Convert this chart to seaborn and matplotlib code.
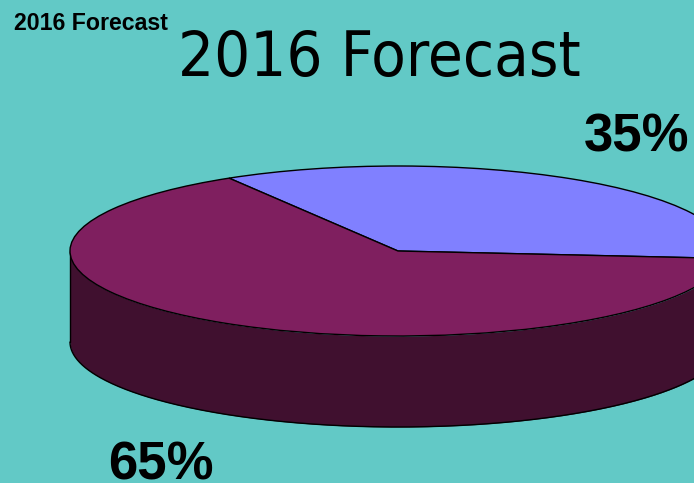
import numpy as np
import matplotlib
matplotlib.use("Agg")
import matplotlib.pyplot as plt
import seaborn as sns

# Forecast shares
shares = [35, 65]
share_labels = ["35%", "65%"]
slice_colors = ["#8080ff", "#7f1f5f"]
wall_color = "#40102f"
background = "#62c9c6"
chart_title = "2016 Forecast"

sns.set_theme(style="white")
plt.rcParams["font.family"] = ["Liberation Sans", "DejaVu Sans"]

W, H = 694, 483
fig = plt.figure(figsize=(W / 100, H / 100), dpi=100, facecolor=background)

# Axes in pixel terms: disc centre (398, 251), radii 328 x 85, wall depth 91
cx, cy, rx, ry, depth = 398, 251, 328, 85, 91
ax = fig.add_axes([(cx - rx) / W, 1 - (cy + ry) / H, 2 * rx / W, 2 * ry / H])
ax.pie(shares, colors=slice_colors, startangle=-5, counterclock=True,
       wedgeprops={"edgecolor": "black", "linewidth": 1.0, "zorder": 3})
ax.set_aspect("auto")
ax.set_xlim(-1, 1)
ax.set_ylim(-1, 1)
for patch in ax.patches:
    patch.set_clip_on(False)
ax.patch.set_visible(False)

# Side wall hanging under the front half of the disc
wall = depth / ry
theta = np.linspace(np.pi, 2 * np.pi, 400)
ax.fill_between(np.cos(theta), np.sin(theta) - wall, np.sin(theta),
                color=wall_color, linewidth=0, zorder=1, clip_on=False)
ax.plot(np.cos(theta), np.sin(theta) - wall, color="black", lw=1.0, zorder=2, clip_on=False)
ax.plot([-1, -1], [0, -wall], color="black", lw=1.0, zorder=2, clip_on=False)

# Texts positioned in figure pixels
def put(x, y, s, size, weight="normal", **kw):
    fig.text(x / W, 1 - y / H, s, fontsize=size, fontweight=weight, color="black",
             ha="left", va="baseline", **kw)

put(14, 30, chart_title, 16.7, "bold")
put(178, 76, chart_title, 45.5, family="DejaVu Sans", fontstretch="condensed")
put(584, 151, share_labels[0], 38, "bold")
put(108, 479, share_labels[1], 38, "bold")

fig.savefig("out.png", dpi=100, facecolor=background)
